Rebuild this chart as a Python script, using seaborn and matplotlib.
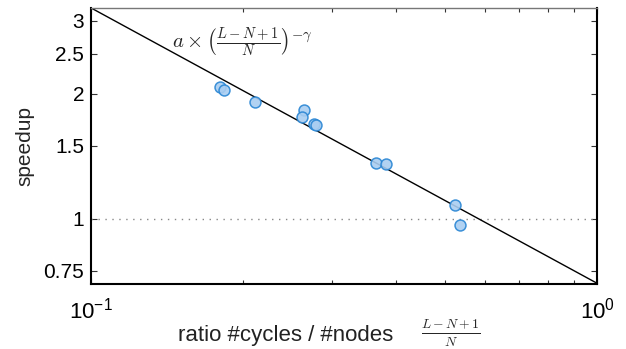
import numpy as np
import pandas as pd
import matplotlib
matplotlib.use('Agg')
import matplotlib.pyplot as plt
import matplotlib.ticker as mticker
import seaborn as sns

# measured points: cycles/nodes ratio vs speedup
ratio = [0.180, 0.183, 0.211, 0.263, 0.261, 0.276, 0.278, 0.366, 0.383, 0.524, 0.537]
speedup = [2.08, 2.04, 1.91, 1.83, 1.76, 1.69, 1.685, 1.36, 1.355, 1.08, 0.967]

# power-law fit a * x^(-gamma)
fit_a = 0.70
fit_gamma = 0.663
fit_x = [0.1, 1.0]

y_ticks = [0.75, 1, 1.5, 2, 2.5, 3]
y_tick_labels = ['0.75', '1', '1.5', '2', '2.5', '3']
x_ticks = [0.1, 1.0]
x_tick_labels = [r'$\mathregular{10^{-1}}$', r'$\mathregular{10^{0}}$']

sns.set_theme(style='ticks')
plt.rcParams['font.family'] = ['Liberation Sans', 'DejaVu Sans']
plt.rcParams['mathtext.fontset'] = 'cm'

df = pd.DataFrame({'ratio': ratio, 'speedup': speedup})
fit_df = pd.DataFrame({'x': fit_x, 'y': [fit_a * v ** (-fit_gamma) for v in fit_x]})

fig = plt.figure(figsize=(6.26, 3.49), dpi=100)
ax = fig.add_axes([0.1454, 0.1862, 0.8083, 0.7908])
ax.set_xscale('log')
ax.set_yscale('log')

ax.axhline(1.0, color='#888888', linestyle=(0, (1, 4)), linewidth=1.0, zorder=1)
sns.lineplot(data=fit_df, x='x', y='y', color='black', linewidth=1.0, ax=ax, zorder=2)
sns.scatterplot(data=df, x='ratio', y='speedup', s=62, color='#a9cdf1',
                edgecolor='#2a86d4', linewidth=1.1, alpha=0.9, ax=ax, zorder=3)

ax.set_xlim(0.1, 1.0)
ax.set_ylim(0.697, 3.22)

ax.yaxis.set_major_locator(mticker.FixedLocator(y_ticks))
ax.yaxis.set_major_formatter(mticker.FixedFormatter(y_tick_labels))
ax.yaxis.set_minor_locator(mticker.NullLocator())
ax.xaxis.set_major_locator(mticker.FixedLocator(x_ticks))
ax.xaxis.set_major_formatter(mticker.FixedFormatter(x_tick_labels))
ax.xaxis.set_minor_locator(mticker.LogLocator(base=10, subs=np.arange(2, 10)))
ax.xaxis.set_minor_formatter(mticker.NullFormatter())

ax.tick_params(axis='both', which='both', direction='in', top=True, right=True,
               colors='#333333', labelcolor='black', labelsize=15)
ax.tick_params(axis='both', which='major', length=4, width=0.8)
ax.tick_params(axis='x', which='minor', length=3, width=0.8)
ax.tick_params(axis='y', which='major', pad=5)
ax.tick_params(axis='x', which='major', pad=10, labelsize=16)

for side in ['left', 'bottom', 'right']:
    ax.spines[side].set_linewidth(1.5)
    ax.spines[side].set_color('black')
ax.spines['top'].set_linewidth(1.0)
ax.spines['top'].set_color('#777777')

ax.set_ylabel('speedup', fontsize=15, va='center')
ax.yaxis.set_label_coords(-0.13, 0.5)
ax.set_xlabel('ratio #cycles / #nodes', fontsize=16, va='center', color='#222222')
ax.xaxis.set_label_coords(0.384, -0.188)
fig.text(451 / 626, 1 - 333 / 349, r'$\frac{L-N+1}{N}$', fontsize=14,
         ha='center', va='center')

ax.text(0.1445, 2.67, r'$a \times \left(\frac{L-N+1}{N}\right)^{-\gamma}$',
        fontsize=15, ha='left', va='center')

fig.savefig('out.png', dpi=100)
